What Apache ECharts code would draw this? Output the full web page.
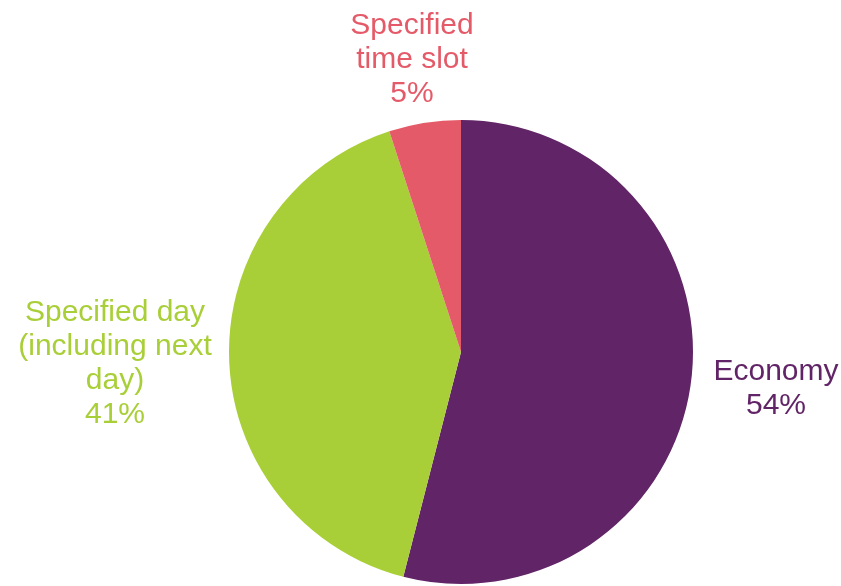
<!DOCTYPE html>
<html>
<head>
<meta charset="utf-8">
<script src="https://cdn.jsdelivr.net/npm/echarts@6/dist/echarts.min.js"></script>
<style>html,body{margin:0;padding:0;background:#fff}#c{width:841px;height:586px}</style>
</head>
<body>
<div id="c"></div>
<script>
var categories = ['Economy', 'Specified day\n(including next\nday)', 'Specified\ntime slot'];
var values = [54, 41, 5];
var colors = ['#612466', '#a9cf38', '#e55a68'];

var labelPos = [[776, 389], [115, 364], [412, 60]];

var chart = echarts.init(document.getElementById('c'), null, {renderer: 'canvas'});
chart.setOption({
  animation: false,
  series: [{
    type: 'pie',
    center: [461, 352],
    radius: 232,
    startAngle: 90,
    clockwise: true,
    label: {
      show: true,
      formatter: '{b}\n{d}%',
      fontFamily: 'Liberation Sans, Arial, sans-serif',
      fontSize: 30,
      lineHeight: 34,
      align: 'center',
      overflow: 'none',
      width: 400
    },
    labelLine: {show: false},
    labelLayout: function (p) {
      var pos = labelPos[p.dataIndex];
      return {x: pos[0], y: pos[1], align: 'center', verticalAlign: 'middle'};
    },
    data: categories.map(function (c, i) {
      return {name: c, value: values[i], itemStyle: {color: colors[i]}, label: {color: colors[i]}};
    })
  }]
});
</script>
</body>
</html>
